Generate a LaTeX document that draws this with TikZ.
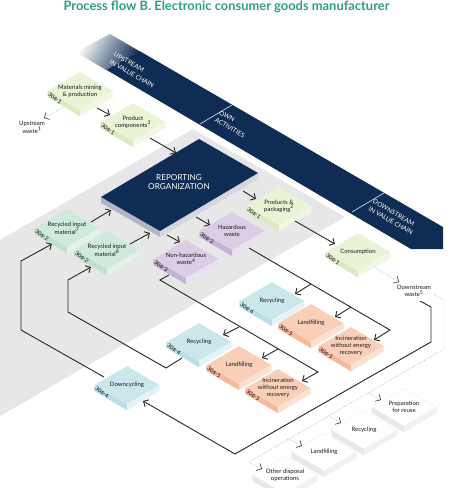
\documentclass[tikz,border=0pt]{standalone}
\usepackage{fontspec}
\setmainfont{Lato}
\usepackage{xcolor}
\definecolor{bandNavy}{HTML}{0F2D54}
\definecolor{titleGreen}{HTML}{2F9E7F}
\definecolor{zoneGrey}{HTML}{E7E7E7}
\definecolor{orgLeft}{HTML}{B4B4C6}
\definecolor{orgRight}{HTML}{D6D6E0}
\definecolor{leafTop}{HTML}{E9F3D6}
\definecolor{leafLeft}{HTML}{DCE9C4}
\definecolor{leafRight}{HTML}{F1F7E4}
\definecolor{mintTop}{HTML}{CFE9DC}
\definecolor{mintLeft}{HTML}{BFE0CF}
\definecolor{mintRight}{HTML}{E3F3EC}
\definecolor{lilacTop}{HTML}{DBCDE4}
\definecolor{lilacLeft}{HTML}{C5B2D5}
\definecolor{lilacRight}{HTML}{E9E1EF}
\definecolor{skyTop}{HTML}{CBE7EC}
\definecolor{skyLeft}{HTML}{B9DFE6}
\definecolor{skyRight}{HTML}{E4F3F6}
\definecolor{peachTop}{HTML}{F9CFB8}
\definecolor{peachLeft}{HTML}{F6B99C}
\definecolor{peachRight}{HTML}{FCE1D3}
\definecolor{ghostTop}{HTML}{FFFFFF}
\definecolor{ghostLeft}{HTML}{E8E8E8}
\definecolor{ghostRight}{HTML}{F1F1F1}
\usepackage{tikz}
\usetikzlibrary{shapes.geometric, arrows.meta}
% block: [extra options]{name}{position}{colour set}{text}{code}
\newcommand{\isoBlock}[6][]{%
  \node[blockTop, fill=#4Top, #1, label={[blockText]center:#5}] (#2) at (#3) {};
  \fill[#4Left] (#2.west) -- (#2.south) -- ([yshift=-6pt]#2.south) -- ([yshift=-6pt]#2.west) -- cycle;
  \fill[#4Right] (#2.south) -- (#2.east) -- ([yshift=-6pt]#2.east) -- ([yshift=-6pt]#2.south) -- cycle;
  \node[codeText] (#2Code) at ([shift={(-25,7)}]#2.center) {#6};
}
\begin{document}
\begin{tikzpicture}[
    x=1pt, y=-1pt,
    blockTop/.style={shape=diamond, minimum width=65pt, minimum height=38pt, inner sep=0pt, aspect=1.7},
    blockText/.style={font=\fontsize{6}{6.8}\selectfont, align=center, text=black!90},
    codeText/.style={font=\fontsize{5.5}{6}\selectfont, rotate=-35, text=black, inner sep=0pt},
    freeText/.style={font=\fontsize{6}{6.8}\selectfont, align=center, text=black!90, inner sep=1pt},
    bandText/.style={font=\fontsize{6.4}{8.4}\selectfont, align=left, text=white, rotate=-30, inner sep=0pt},
    orgText/.style={font=\fontsize{8.2}{9.3}\selectfont, align=center, text=white, inner sep=0pt},
    flowLine/.style={draw=black!85, line width=0.9pt, line join=miter},
    flowArrow/.style={flowLine, -{Straight Barb[length=4pt, width=8pt]}},
    wasteLine/.style={draw=black!50, line width=0.4pt, densely dotted},
    wasteArrow/.style={wasteLine, -{Straight Barb[length=4pt, width=8pt, line width=0.6pt, black!80]}}
]
\useasboundingbox (0,0) rectangle (453,488);
\clip (0,0) rectangle (453,488);

% Title
\node[font=\fontsize{12.9}{14}\selectfont\bfseries, text=titleGreen, inner sep=0pt] (title) at (226.5,7) {Process flow B. Electronic consumer goods manufacturer};

% Band across the top with fade at its start
\fill[bandNavy] (139.5,51) -- (443,227) -- (443,249) -- (411,249) -- (105,69) -- cycle;
\shade[left color=white, right color=bandNavy, shading angle=60] (110,34) -- (140,51.5) -- (106,70) -- (76,52) -- cycle;
\draw[white, line width=0.5pt] (200,124) -- (232,105);
\draw[white, line width=0.5pt] (352,212) -- (384,193);
\node[bandText] (upLabel) at (134,70) {UPSTREAM\\IN VALUE CHAIN};
\node[bandText] (ownLabel) at (232,124) {OWN\\ACTIVITIES};
\node[bandText] (downLabel) at (393,217) {DOWNSTREAM\\IN VALUE CHAIN};

% Grey zone of own activities
\fill[zoneGrey] (193,129) -- (345,217) -- (0,416) -- (0,240) -- cycle;

% Reporting organization
\fill[orgLeft] (101,197) -- (160,231) -- (160,237) -- (101,203) -- cycle;
\fill[orgRight] (160,231) -- (258,173) -- (258,179) -- (160,237) -- cycle;
\fill[bandNavy] (101,197) -- (199,139) -- (258,173) -- (160,231) -- cycle;
\node[orgText] (org) at (179,182) {REPORTING\\ORGANIZATION};

% Upstream blocks
\isoBlock{mat}{80,91}{leaf}{Materials mining\\\& production}{306-1}
\isoBlock{prod}{133,122}{leaf}{Product\\components\textsuperscript{3}}{306-1}
\node[freeText] (upWaste) at (32,127) {Upstream\\waste\textsuperscript{1}};

% Recycled input
\isoBlock{inputA}{67,228}{mint}{Recycled input\\material\textsuperscript{7}}{306-2}
\isoBlock{inputB}{107,250}{mint}{Recycled input\\material\textsuperscript{8}}{306-2}

% Own outputs
\isoBlock{pack}{279,206}{leaf}{Products \&\\packaging\textsuperscript{2}}{306-1}
\isoBlock{haz}{232,231}{lilac}{Hazardous\\waste}{306-3}
\isoBlock{nonHaz}{186,259}{lilac}{Non-hazardous\\waste\textsuperscript{4}}{306-3}
\isoBlock{cons}{358,252}{leaf}{Consumption}{306-1}
\node[freeText] (downWaste) at (414,291) {Downstream\\waste\textsuperscript{5}};

% Hazardous treatment
\isoBlock{recA}{272,301}{sky}{Recycling}{306-4}
\isoBlock{landA}{311,323}{peach}{Landfilling}{306-5}
\isoBlock{incA}{351,346}{peach}{Incineration\\without energy\\recovery}{306-5}

% Non-hazardous treatment
\isoBlock{recB}{199,342}{sky}{Recycling}{306-4}
\isoBlock{landB}{239,365}{peach}{Landfilling}{306-5}
\isoBlock{incB}{278,388}{peach}{Incineration\\without energy\\recovery}{306-5}
\isoBlock{downCyc}{127,385}{sky}{Downcycling}{306-4}

% Downstream waste treatment
\isoBlock[draw=ghostRight, line width=0.4pt]{prep}{404,407}{ghost}{Preparation\\for reuse}{}
\isoBlock[draw=ghostRight, line width=0.4pt]{recW}{364,430}{ghost}{Recycling}{}
\isoBlock[draw=ghostRight, line width=0.4pt]{landW}{324,452}{ghost}{Landfilling}{}
\isoBlock[draw=ghostRight, line width=0.4pt]{otherW}{285,475}{ghost}{Other disposal\\operations}{}

% Bends of the long connectors
\coordinate (hazEnd) at (390,330);
\coordinate (hazRec) at (311,284);
\coordinate (hazLand) at (351,307);
\coordinate (nhBend) at (160,280);
\coordinate (nhEnd) at (318,372);
\coordinate (nhRec) at (239,327);
\coordinate (nhLand) at (278,349);
\coordinate (recBendA) at (166,368);
\coordinate (recBendB) at (68,312);
\coordinate (recBendC) at (68,280);
\coordinate (dcBendA) at (21,330);
\coordinate (dcBendB) at (21,261);
\coordinate (dwBendA) at (431,307);
\coordinate (dwBendB) at (431,342);
\coordinate (dwBendC) at (235,454);
\coordinate (wsBendA) at (444,300);
\coordinate (wsBendB) at (444,349);
\coordinate (wsBendC) at (249,462);
\coordinate (wsPrep) at (369,393);
\coordinate (wsRec) at (329,416);
\coordinate (wsLand) at (289,439);

% Short flows
\draw[wasteArrow] ([shift={(-16,16)}]mat.center) -- ([shift={(12,-9)}]upWaste.center);
\draw[flowArrow] ([shift={(17,17)}]mat.center) -- ([shift={(-23,-7)}]prod.center);
\draw[flowArrow] ([shift={(17,16)}]prod.center) -- ([shift={(-3,-29)}]org.center);
\draw[flowArrow] ([shift={(24,-6)}]inputA.center) -- ([shift={(-68,28)}]org.center);
\draw[flowArrow] ([shift={(23,-6)}]inputB.center) -- ([shift={(-29,51)}]org.center);
\draw[flowArrow] ([shift={(64,9)}]org.center) -- ([shift={(-23,-7)}]pack.center);
\draw[flowArrow] ([shift={(17,35)}]org.center) -- ([shift={(-22,-6)}]haz.center);
\draw[flowArrow] ([shift={(-12,53)}]org.center) -- ([shift={(-6,-17)}]nonHaz.center);
\draw[flowArrow] ([shift={(16,15)}]pack.center) -- ([shift={(-23,-8)}]cons.center);
\draw[wasteArrow] ([shift={(16,15)}]cons.center) -- ([shift={(-15,-9)}]downWaste.center);

% Hazardous waste flows
\draw[flowArrow] ([shift={(17,17)}]haz.center) -- (hazEnd) -- ([shift={(23,-6)}]incA.center);
\draw[flowArrow] (hazRec) -- ([shift={(23,-7)}]recA.center);
\draw[flowArrow] (hazLand) -- ([shift={(24,-6)}]landA.center);

% Non-hazardous waste flows
\draw[flowArrow] ([shift={(-17,16)}]nonHaz.center) -- (nhBend) -- (nhEnd) -- ([shift={(24,-7)}]incB.center);
\draw[flowArrow] (nhRec) -- ([shift={(24,-7)}]recB.center);
\draw[flowArrow] (nhLand) -- ([shift={(23,-7)}]landB.center);

% Return flows
\draw[flowArrow] ([shift={(-17,16)}]recB.center) -- (recBendA) -- (recBendB) -- (recBendC) -- ([shift={(-16,17)}]inputB.center);
\draw[flowArrow] ([shift={(-23,-8)}]downCyc.center) -- (dcBendA) -- (dcBendB) -- ([shift={(-15,16)}]inputA.center);
\draw[flowArrow] ([shift={(6,10)}]downWaste.center) -- (dwBendA) -- (dwBendB) -- (dwBendC) -- ([shift={(16,16)}]downCyc.center);

% Downstream waste flows
\draw[wasteArrow] ([shift={(19,3)}]downWaste.center) -- (wsBendA) -- (wsBendB) -- (wsBendC) -- ([shift={(-23,-6)}]otherW.center);
\draw[wasteArrow] (wsPrep) -- ([shift={(-23,-7)}]prep.center);
\draw[wasteArrow] (wsRec) -- ([shift={(-23,-7)}]recW.center);
\draw[wasteArrow] (wsLand) -- ([shift={(-22,-6)}]landW.center);

\end{tikzpicture}
\end{document}
